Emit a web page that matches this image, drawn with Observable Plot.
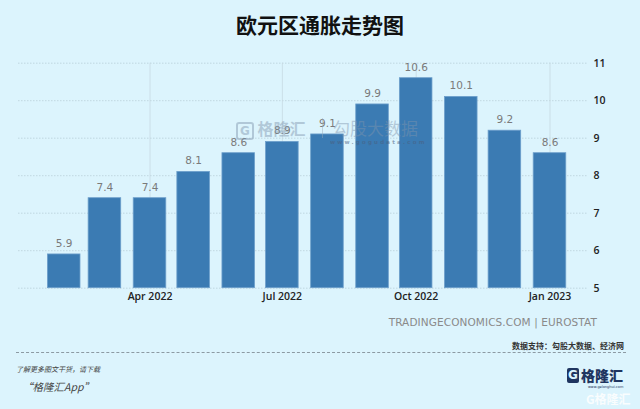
<!DOCTYPE html>
<html>
<head>
<meta charset="utf-8">
<script src="https://cdn.jsdelivr.net/npm/d3@7"></script>
<script src="https://cdn.jsdelivr.net/npm/@observablehq/plot@0.6"></script>
<style>
  html, body { margin: 0; padding: 0; }
  body { width: 640px; height: 409px; background: #dcf4fd; position: relative; overflow: hidden; font-family: "Noto Sans CJK SC", "Open Sans", sans-serif; }
  #title { position: absolute; left: 0; width: 640px; top: 9px; text-align: center; font-size: 21px; font-weight: 700; color: #111; line-height: 30px; }
  #chart { position: absolute; left: 0; top: 0; }
  .wm { position: absolute; color: #7f95ad; opacity: 0.45; white-space: nowrap; line-height: 1; }
  #source { position: absolute; right: 43px; top: 316px; font-family: "DejaVu Sans", sans-serif; font-size: 10.5px; color: #8a8a8a; letter-spacing: 0.1px; }
  #support { position: absolute; right: 16px; top: 340px; font-size: 8px; font-weight: 700; color: #333; }
  #dash { position: absolute; left: 16px; width: 610px; top: 352px; border-top: 1px dashed #8c9aa3; }
  #learn { position: absolute; left: 16px; top: 364px; font-size: 7px; font-style: italic; color: #444; }
  #app { position: absolute; left: 22px; top: 379px; font-size: 10.5px; font-style: italic; color: #444; }
  #logo { position: absolute; left: 567px; top: 368px; height: 15px; line-height: 15px; color: #1f3560; font-weight: 900; white-space: nowrap; }
  #logo .g { display: inline-block; width: 12px; height: 15px; background: #1f3560; color: #dcf4fd; font-family: "DejaVu Sans", sans-serif; font-size: 12px; line-height: 15px; text-align: center; border-radius: 2px; vertical-align: top; margin-right: 2px; }
  #logo .t { font-size: 14px; line-height: 15px; vertical-align: top; letter-spacing: 0px; }
  #logo .u { position: absolute; left: 21px; top: 18px; font-family: "DejaVu Sans", sans-serif; font-size: 3.5px; line-height: 3.5px; font-weight: 400; color: #1f3560; }
  #wm2 { position: absolute; left: 586px; top: 393px; line-height: 12px; color: #ffffff; opacity: 0.85; font-size: 12px; font-weight: 700; white-space: nowrap; }
</style>
</head>
<body>
<div id="chart"></div>
<div id="title">欧元区通胀走势图</div>
<div class="wm" style="left:236px; top:120px; font-size:16px; font-weight:700;"><span style="font-family:'DejaVu Sans';border:2px solid #7f95ad;border-radius:3px;padding:0 2px;font-size:12px;">G</span> 格隆汇</div>
<div class="wm" style="left:322px; top:118px; height:20px; border-left:1px solid #9aaabb;"></div>
<div class="wm" style="left:333px; top:119px; font-size:17px;">勾股大数据</div>
<div class="wm" style="left:330px; top:140px; font-family:'DejaVu Sans'; font-size:5.5px; font-weight:700; letter-spacing:2.2px; color:#4a5f80; opacity:0.55;">www.gogudata.com</div>
<div id="source">TRADINGECONOMICS.COM | EUROSTAT</div>
<div id="support">数据支持：勾股大数据、经济网</div>
<div id="dash"></div>
<div id="learn">了解更多图文干货，请下载</div>
<div id="app">“格隆汇App”</div>
<div id="logo"><span class="g">G</span><span class="t">格隆汇</span><span class="u">www.gelonghui.com</span></div>
<div id="wm2">G格隆汇</div>
<script>
// ---- data ----
const months = ["2022-02-01","2022-03-01","2022-04-01","2022-05-01","2022-06-01","2022-07-01",
                "2022-08-01","2022-09-01","2022-10-01","2022-11-01","2022-12-01","2023-01-01"];
const values = [5.9, 7.4, 7.4, 8.1, 8.6, 8.9, 9.1, 9.9, 10.6, 10.1, 9.2, 8.6];
const yTicks = [5, 6, 7, 8, 9, 10, 11];
const xTickMonths = ["2022-04-01","2022-07-01","2022-10-01","2023-01-01"];
const xDomain = ["2021-12-31T14:00:00Z", "2023-01-26T19:00:00Z"];

const DAY = 864e5;
const halfBarDays = 11.2;
const data = months.map((m, i) => ({date: new Date(m + "T00:00:00Z"), value: values[i]}));
const xTicks = xTickMonths.map(m => new Date(m + "T00:00:00Z"));
const yBase = yTicks[0];

const chart = Plot.plot({
  width: 640,
  height: 310,
  marginTop: 62.7,
  marginBottom: 22.3,
  marginLeft: 18,
  marginRight: 53,
  style: {background: "transparent", fontFamily: "'Open Sans', 'Liberation Sans', sans-serif", fontSize: "10.5px", fontWeight: 600, color: "#222", overflow: "visible"},
  x: {type: "utc", domain: xDomain.map(d => new Date(d)), ticks: xTicks, tickFormat: d3.utcFormat("%b %Y"), tickSize: 0, tickPadding: 4, label: null},
  y: {domain: [yTicks[0], yTicks[yTicks.length - 1]], ticks: yTicks, tickFormat: d3.format("d"), axis: "right", tickSize: 0, tickPadding: 6, label: null},
  marks: [
    Plot.ruleY(yTicks, {stroke: "#b9cfd9", strokeWidth: 0.8, strokeDasharray: "1.5,1.5"}),
    Plot.ruleX(xTicks, {y1: yTicks[0], y2: yTicks[yTicks.length - 1], stroke: "#c6d9e2", strokeWidth: 0.8}),
    Plot.rectY(data, {
      x1: d => new Date(+d.date - halfBarDays * DAY),
      x2: d => new Date(+d.date + halfBarDays * DAY),
      y1: yBase, y2: "value",
      fill: "#3b7bb3", stroke: "#6d9fcb", strokeWidth: 0.8
    }),
    Plot.text(data, {x: "date", y: "value", text: d => d.value.toFixed(1), dy: -11,
      fill: "#7a7a7a", fontSize: 10.5, fontWeight: 400, fontFamily: "'DejaVu Sans', sans-serif", letterSpacing: 0.5})
  ]
});
document.getElementById("chart").appendChild(chart);
</script>
</body>
</html>
